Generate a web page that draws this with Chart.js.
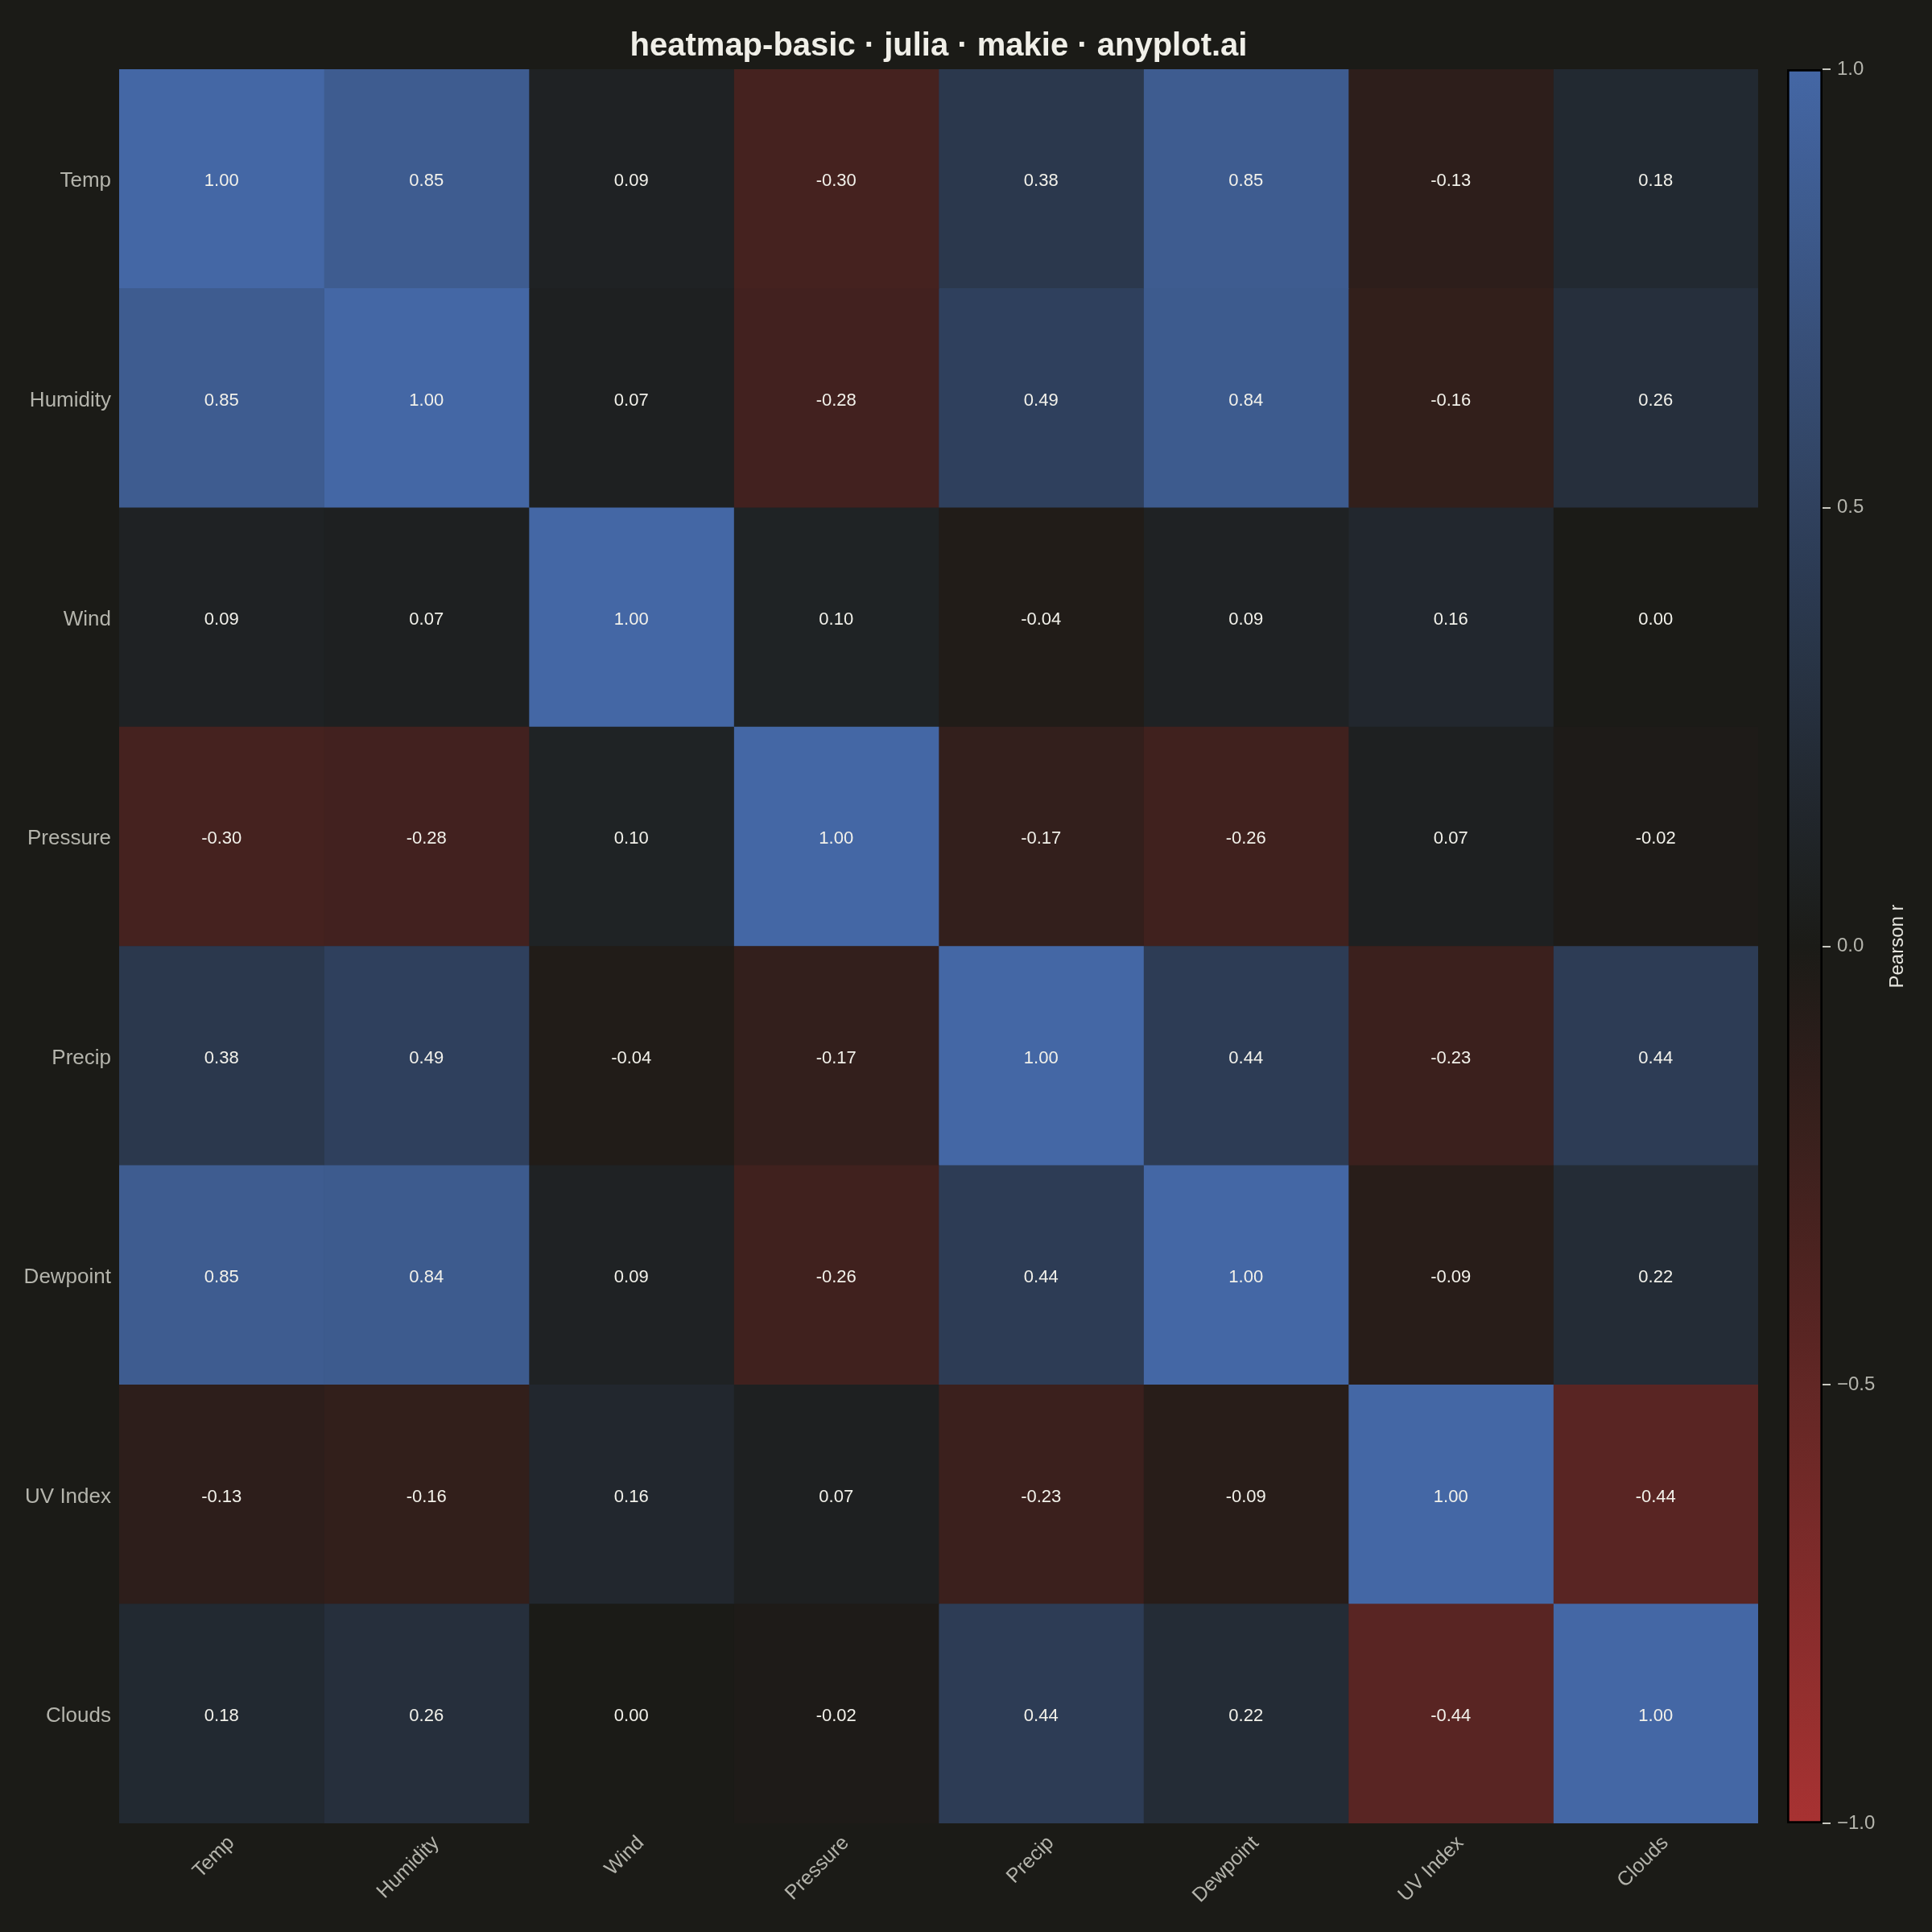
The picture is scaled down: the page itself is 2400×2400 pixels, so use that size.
<!DOCTYPE html>
<html>
<head>
<meta charset="utf-8">
<script src="https://cdn.jsdelivr.net/npm/chart.js@4.4.1/dist/chart.umd.min.js"></script>
<style>
  html, body { margin: 0; padding: 0; background: #1b1b17; }
  #wrap { position: relative; width: 2400px; height: 2400px; background: #1b1b17; }
  #main { position: absolute; left: 0; top: 0; }
  #cbar { position: absolute; left: 2184px; top: 0; }
</style>
</head>
<body>
<div id="wrap">
  <canvas id="main" width="2400" height="2400"></canvas>
  <canvas id="cbar" width="216" height="2400"></canvas>
</div>
<script>
// ---- data ----
const variables = ["Temp", "Humidity", "Wind", "Pressure", "Precip", "Dewpoint", "UV Index", "Clouds"];
const rowTemp     = [ 1.00,  0.85,  0.09, -0.30,  0.38,  0.85, -0.13,  0.18];
const rowHumidity = [ 0.85,  1.00,  0.07, -0.28,  0.49,  0.84, -0.16,  0.26];
const rowWind     = [ 0.09,  0.07,  1.00,  0.10, -0.04,  0.09,  0.16,  0.00];
const rowPressure = [-0.30, -0.28,  0.10,  1.00, -0.17, -0.26,  0.07, -0.02];
const rowPrecip   = [ 0.38,  0.49, -0.04, -0.17,  1.00,  0.44, -0.23,  0.44];
const rowDewpoint = [ 0.85,  0.84,  0.09, -0.26,  0.44,  1.00, -0.09,  0.22];
const rowUV       = [-0.13, -0.16,  0.16,  0.07, -0.23, -0.09,  1.00, -0.44];
const rowClouds   = [ 0.18,  0.26,  0.00, -0.02,  0.44,  0.22, -0.44,  1.00];
const colorbarTicks = [-1.0, -0.5, 0.0, 0.5, 1.0];
const cmapValues = [-1, 0, 1];
const cmapColors = [[168, 50, 50], [27, 27, 23], [68, 103, 165]];

const matrix = [rowTemp, rowHumidity, rowWind, rowPressure, rowPrecip, rowDewpoint, rowUV, rowClouds];

function colorFor(v) {
  let k = 0;
  while (k < cmapValues.length - 2 && v > cmapValues[k + 1]) k++;
  const t = Math.max(0, Math.min(1, (v - cmapValues[k]) / (cmapValues[k + 1] - cmapValues[k])));
  const a = cmapColors[k], b = cmapColors[k + 1];
  const c = a.map((x, i) => Math.round(x + (b[i] - x) * t));
  return `rgb(${c[0]},${c[1]},${c[2]})`;
}

const FONT = "'Liberation Sans', Arial, Helvetica, sans-serif";
const BG = '#1b1b17';

// one dataset per column: horizontal floating bars spanning [c, c+1]
const datasets = variables.map((colName, c) => ({
  label: colName,
  data: variables.map(() => [c, c + 1]),
  backgroundColor: matrix.map(row => colorFor(row[c])),
  borderWidth: 0,
  grouped: false,
  barPercentage: 1.0,
  categoryPercentage: 1.0
}));

const cellLabels = {
  id: 'cellLabels',
  afterDatasetsDraw(chart) {
    const { ctx, scales: { x, y } } = chart;
    ctx.save();
    ctx.fillStyle = '#f2f1ea';
    ctx.font = `22px ${FONT}`;
    ctx.textAlign = 'center';
    ctx.textBaseline = 'middle';
    matrix.forEach((row, i) => {
      row.forEach((v, c) => {
        ctx.fillText(v.toFixed(2), x.getPixelForValue(c + 0.5), y.getPixelForValue(i) + 3);
      });
    });
    ctx.restore();
  }
};

const bgPlugin = {
  id: 'bg',
  beforeDraw(chart) {
    const ctx = chart.ctx;
    ctx.save();
    ctx.fillStyle = BG;
    ctx.fillRect(0, 0, chart.width, chart.height);
    ctx.restore();
  }
};

new Chart(document.getElementById('main'), {
  type: 'bar',
  data: { labels: variables, datasets },
  plugins: [bgPlugin, cellLabels],
  options: {
    indexAxis: 'y',
    responsive: false,
    animation: false,
    devicePixelRatio: 1,
    layout: { padding: { left: 0, right: 216, top: 0, bottom: 0 } },
    plugins: {
      legend: { display: false },
      tooltip: { enabled: false },
      title: {
        display: true,
        text: 'heatmap-basic · julia · makie · anyplot.ai',
        color: '#f0efe8',
        fullSize: false,
        font: { family: FONT, size: 40, weight: 'bold', lineHeight: 1.2 },
        padding: { top: 34, bottom: 4 }
      }
    },
    scales: {
      x: {
        type: 'linear',
        min: 0,
        max: variables.length,
        grid: { display: false },
        border: { display: false },
        afterBuildTicks(scale) {
          scale.ticks = variables.map((_, i) => ({ value: i + 0.5 }));
        },
        afterFit(scale) { scale.height = 135; },
        ticks: {
          autoSkip: false,
          minRotation: 45,
          maxRotation: 45,
          padding: 2,
          labelOffset: 12,
          color: '#b4b4ac',
          font: { family: FONT, size: 25 },
          callback: (v) => variables[Math.round(v - 0.5)]
        }
      },
      y: {
        type: 'category',
        grid: { display: false },
        border: { display: false },
        afterFit(scale) { scale.width = 148; },
        ticks: {
          padding: 2,
          labelOffset: 3,
          color: '#b4b4ac',
          font: { family: FONT, size: 26 }
        }
      }
    }
  }
});

// ---- colorbar ----
const cbTitle = {
  id: 'cbTitle',
  beforeDraw(chart) {
    const ctx = chart.ctx;
    ctx.save();
    ctx.fillStyle = BG;
    ctx.fillRect(0, 0, chart.width, chart.height);
    ctx.restore();
  },
  afterDraw(chart) {
    const { ctx, chartArea } = chart;
    ctx.save();
    ctx.translate(173, (chartArea.top + chartArea.bottom) / 2);
    ctx.rotate(-Math.PI / 2);
    ctx.fillStyle = '#e6e5de';
    ctx.font = `24px ${FONT}`;
    ctx.textAlign = 'center';
    ctx.textBaseline = 'middle';
    ctx.fillText('Pearson r', 0, 0);
    ctx.restore();
  }
};

new Chart(document.getElementById('cbar'), {
  type: 'bar',
  data: {
    labels: ['Pearson r'],
    datasets: [{
      data: [[cmapValues[0], cmapValues[cmapValues.length - 1]]],
      backgroundColor(context) {
        const chart = context.chart;
        const ys = chart.scales.y;
        if (!ys || !chart.chartArea) return '#000';
        const top = ys.getPixelForValue(cmapValues[cmapValues.length - 1]);
        const bot = ys.getPixelForValue(cmapValues[0]);
        const g = chart.ctx.createLinearGradient(0, bot, 0, top);
        const n = 40;
        for (let k = 0; k <= n; k++) {
          const v = cmapValues[0] + (cmapValues[cmapValues.length - 1] - cmapValues[0]) * k / n;
          g.addColorStop(k / n, colorFor(v));
        }
        return g;
      },
      borderColor: '#000000',
      borderWidth: 3,
      borderSkipped: false,
      barPercentage: 1.0,
      categoryPercentage: 1.0
    }]
  },
  plugins: [cbTitle],
  options: {
    responsive: false,
    animation: false,
    devicePixelRatio: 1,
    layout: { padding: { left: 36, right: 0, top: 86, bottom: 135 } },
    plugins: { legend: { display: false }, tooltip: { enabled: false } },
    scales: {
      x: { display: false },
      y: {
        position: 'right',
        min: -1,
        max: 1,
        afterBuildTicks(scale) {
          scale.ticks = colorbarTicks.map(v => ({ value: v }));
        },
        afterFit(scale) { scale.width = 136; },
        grid: {
          display: true,
          drawOnChartArea: false,
          drawTicks: true,
          tickLength: 10,
          color: '#c8c8c0',
          lineWidth: 2
        },
        border: { display: false },
        ticks: {
          padding: 8,
          color: '#b4b4ac',
          font: { family: FONT, size: 24 },
          callback: (v) => v.toFixed(1).replace('-', '\u2212')
        }
      }
    }
  }
});
</script>
</body>
</html>
